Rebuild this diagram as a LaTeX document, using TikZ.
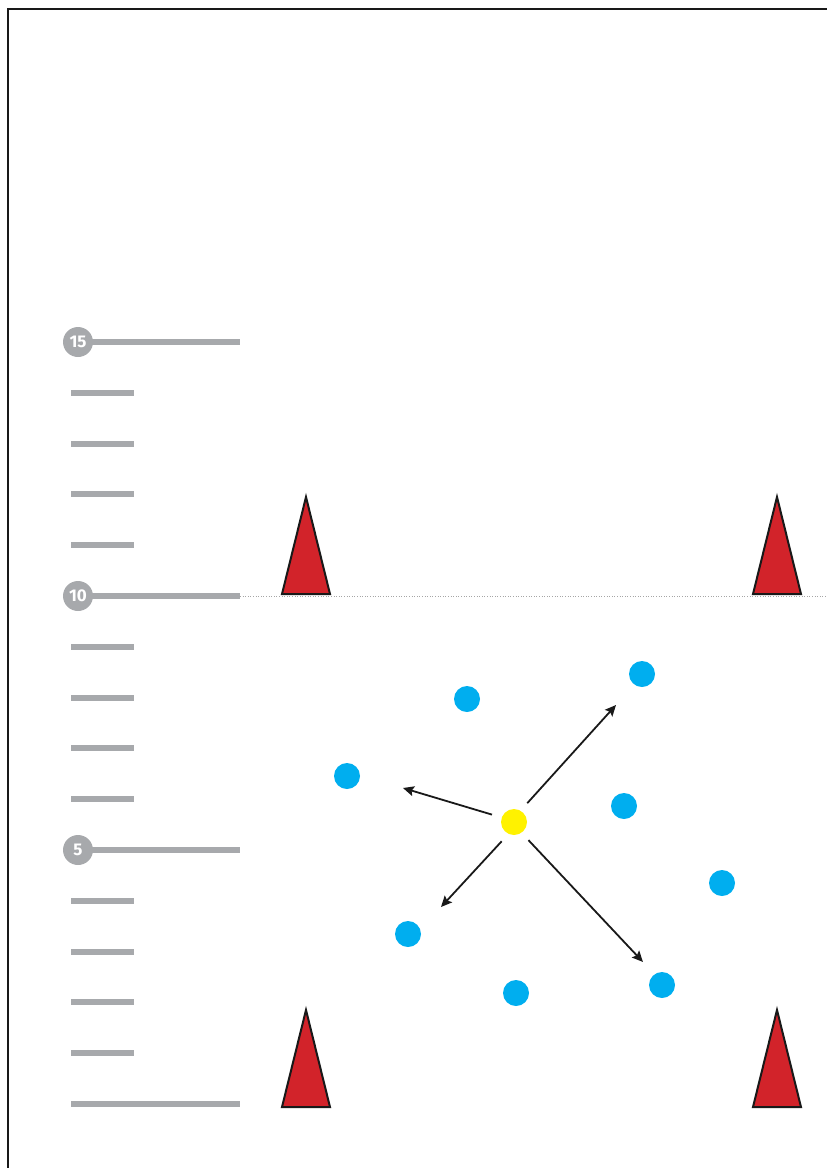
\documentclass[tikz,border=0pt]{standalone}
\usepackage{fontspec}
\newfontfamily\badgefont{Fira Sans}
\usetikzlibrary{arrows.meta}
\definecolor{rulegray}{HTML}{A7A9AC}
\definecolor{conered}{HTML}{D2232A}
\definecolor{dotblue}{HTML}{00AEEF}
\definecolor{ballyellow}{HTML}{FFF200}
\tikzset{
  tick/.style={rulegray, line width=6pt},
  badge/.style={circle, fill=rulegray, minimum size=30pt, inner sep=0pt,
    text=white, font=\badgefont\bfseries\fontsize{17}{17}\selectfont},
  cone/.style={fill=conered, draw=black!90, line width=2pt, line join=miter},
  player/.style={circle, fill=dotblue, minimum size=26pt, inner sep=0pt},
  ball/.style={circle, fill=ballyellow, minimum size=26pt, inner sep=0pt},
  run/.style={-{Stealth[length=11pt,width=10pt,inset=2pt]}, line width=1.8pt,
    black!90, shorten <=10pt},
}
\begin{document}
\begin{tikzpicture}[x=1pt, y=-1pt]
  \useasboundingbox (0,0) rectangle (827,1168);
  % frame
  \draw[line width=2pt, black!90] (8,1168) -- (8,9) -- (827,9);
  % ruler
  \def\gap{50.8}
  \foreach \i in {1,2,3,4,6,7,8,9,11,12,13,14} {
    \draw[tick] (71,1104-\gap*\i) -- (134,1104-\gap*\i);
  }
  \draw[tick] (71,1104) -- (240,1104);
  \foreach \i in {5,10,15} {
    \draw[tick] (78,1104-\gap*\i) -- (240,1104-\gap*\i);
    \node[badge] (m\i) at (78,1104-\gap*\i) {\i};
  }
  \draw[gray!70, line width=0.6pt, dotted] (240,596) -- (827,596);
  % cones
  \filldraw[cone] (282,594) -- (306,497) -- (330,594) -- cycle;
  \filldraw[cone] (753,594) -- (777,497) -- (801,594) -- cycle;
  \filldraw[cone] (282,1107) -- (306,1010) -- (330,1107) -- cycle;
  \filldraw[cone] (753,1107) -- (777,1010) -- (801,1107) -- cycle;
  % players
  \node[player] (p1) at (467,699) {};
  \node[player] (p2) at (642,674) {};
  \node[player] (p3) at (347,776) {};
  \node[player] (p4) at (624,806) {};
  \node[player] (p5) at (722,883) {};
  \node[player] (p6) at (408,934) {};
  \node[player] (p7) at (516,993) {};
  \node[player] (p8) at (662,985) {};
  % ball and runs
  \node[ball] (ball) at (514,822) {};
  \coordinate (t1) at (403,788);
  \coordinate (t2) at (616,705);
  \coordinate (t3) at (441,907);
  \coordinate (t4) at (643,962);
  \draw[run] (ball.160) -- (t1);
  \draw[run] (ball.60) -- (t2);
  \draw[run] (ball.-115) -- (t3);
  \draw[run] (ball.-55) -- (t4);
\end{tikzpicture}
\end{document}
